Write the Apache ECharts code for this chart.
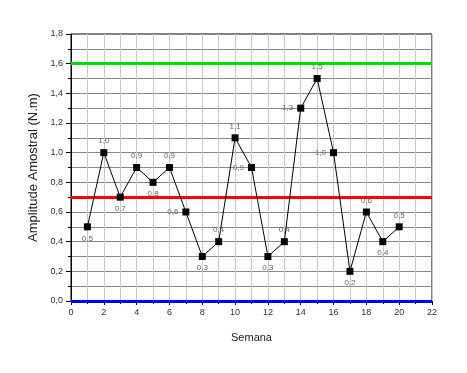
<!DOCTYPE html>
<html><head><meta charset="utf-8">
<script src="https://cdn.jsdelivr.net/npm/echarts@6/dist/echarts.min.js"></script>
<style>html,body{margin:0;padding:0;background:#fff}#c{width:467px;height:373px}</style>
</head><body><div id="c"></div>
<script>
const weeks = [1,2,3,4,5,6,7,8,9,10,11,12,13,14,15,16,17,18,19,20];
const amplitude = [0.5,1.0,0.7,0.9,0.8,0.9,0.6,0.3,0.4,1.1,0.9,0.3,0.4,1.3,1.5,1.0,0.2,0.6,0.4,0.5];
const labelPlacement = ['bottom','top','bottom','top','bottom','top','left','bottom','top','top','left','bottom','top','left','top','left','bottom','top','bottom','top'];
const limits = [1.6, 0.7, 0.0];
const limitColors = ['#00dd00', '#ff0000', '#0000ff'];
const xTitle = 'Semana';
const yTitle = 'Amplitude Amostral (N.m)';

const fmt = v => v.toFixed(1).replace('.', ',');
const font = 'Liberation Sans, Arial, sans-serif';

const chart = echarts.init(document.getElementById('c'), null, {renderer: 'canvas'});
chart.setOption({
  animation: false,
  grid: {left: 71, right: 35, top: 34, bottom: 72, show: true, borderColor: '#000', borderWidth: 1},
  xAxis: {
    type: 'value', min: 0, max: 22, interval: 2,
    name: xTitle, nameLocation: 'middle', nameGap: 31,
    nameTextStyle: {fontFamily: font, fontSize: 11, color: '#222'},
    axisLine: {show: true, lineStyle: {color: '#000'}},
    axisTick: {show: true, length: 4, inside: false, lineStyle: {color: '#000'}},
    minorTick: {show: true, splitNumber: 2, length: 3, lineStyle: {color: '#000'}},
    axisLabel: {fontFamily: font, fontSize: 9, color: '#333', margin: 7},
    splitLine: {show: true, lineStyle: {color: '#c8c8c8', width: 1}},
    minorSplitLine: {show: true, lineStyle: {color: '#c8c8c8', width: 1}}
  },
  yAxis: {
    type: 'value', min: 0, max: 1.8, interval: 0.2,
    name: yTitle, nameLocation: 'middle', nameGap: 27,
    nameTextStyle: {fontFamily: font, fontSize: 13, color: '#222'},
    axisLine: {show: true, lineStyle: {color: '#000'}},
    axisTick: {show: true, length: 5, lineStyle: {color: '#000'}},
    minorTick: {show: true, splitNumber: 2, length: 3, lineStyle: {color: '#000'}},
    axisLabel: {fontFamily: font, fontSize: 9, color: '#333', margin: 8, formatter: v => fmt(v)},
    splitLine: {show: true, lineStyle: {color: '#888', width: 1}},
    minorSplitLine: {show: true, lineStyle: {color: '#888', width: 1}}
  },
  series: [{
    type: 'line',
    data: weeks.map((w, i) => ({value: [w, amplitude[i]], label: {position: labelPlacement[i]}})),
    symbol: 'rect', symbolSize: 7,
    itemStyle: {color: '#000'},
    lineStyle: {color: '#000', width: 1},
    label: {show: true, fontFamily: font, fontSize: 8, color: '#666', distance: 4,
      formatter: p => fmt(p.value[1])},
    z: 5,
    markLine: {
      silent: true, symbol: ['none', 'none'], label: {show: false},
      data: limits.map((v, i) => ({yAxis: v, lineStyle: {color: limitColors[i], width: 3, type: 'solid'}}))
    }
  }]
});
</script></body></html>
